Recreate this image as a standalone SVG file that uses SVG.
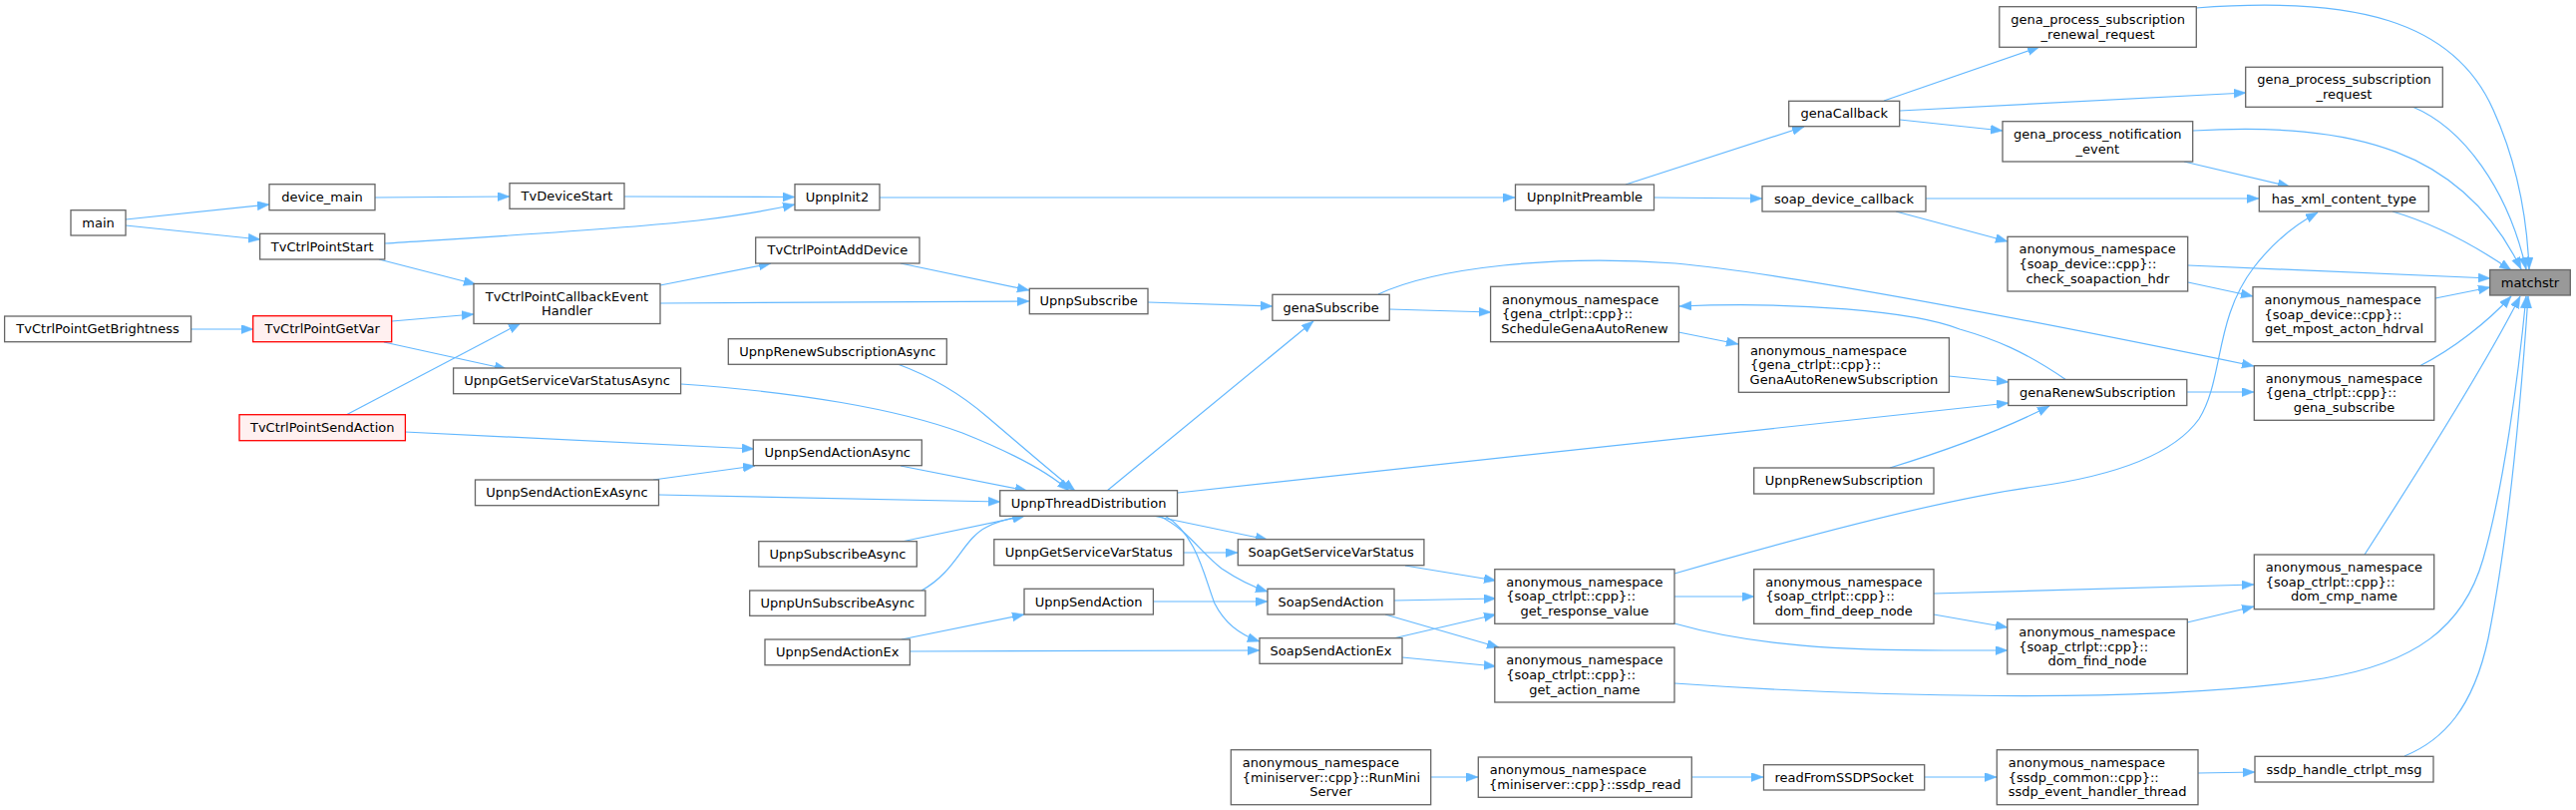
<svg xmlns="http://www.w3.org/2000/svg" width="2583" height="812" viewBox="0 0 2583 812">
<style>
.n rect{fill:#ffffff;stroke:#666666;stroke-width:1.3}
.n.r rect{fill:#fff0f0;stroke:#ff0000}
.n.g rect{fill:#999999}
text{font-family:"DejaVu Sans","Liberation Sans",sans-serif;font-size:13px;fill:#000000}
.m{text-anchor:middle}
#edges path{fill:none;stroke:#63b8ff;stroke-width:1.2;marker-end:url(#a)}
</style>
<defs>
<marker id="a" markerUnits="userSpaceOnUse" markerWidth="14" markerHeight="11" refX="12" refY="4.5" orient="auto">
<path d="M0,0 L12,4.5 L0,9 Z" fill="#63b8ff" stroke="#63b8ff" stroke-width="0.5"/>
</marker>
</defs>
<rect width="2583" height="812" fill="#ffffff"/>
<g id="edges">
<path d="M126,220 L270,205"/>
<path d="M126,226 L261,240"/>
<path d="M376,198 L511,197"/>
<path d="M626,197 L797,197.5"/>
<path d="M386,244 C480,238 620,230 700,221 C740,216 770,211 797,205"/>
<path d="M380,260 L477,285"/>
<path d="M192,330 L254,330"/>
<path d="M393,322 L475,315"/>
<path d="M385,343 L508,370"/>
<path d="M347,416 L522,324"/>
<path d="M406,433 L756,450"/>
<path d="M662,286 L773,264"/>
<path d="M662,304 L1032,302"/>
<path d="M903,264 L1032,291"/>
<path d="M882,198 L1519,198"/>
<path d="M1630,185 L1809,127"/>
<path d="M1659,198 L1767,199"/>
<path d="M1889,101 L2045,47"/>
<path d="M1905,111 L2252,93"/>
<path d="M1905,120 L2008,131"/>
<path d="M1931,199 L2265,199"/>
<path d="M1901,212 L2013,242"/>
<path d="M2190,162 L2296,187"/>
<path d="M2202,8 C2360,-4 2460,20 2500,110 C2525,165 2534,220 2536,270"/>
<path d="M2419,107 C2470,128 2515,190 2533,270"/>
<path d="M2199,131 C2360,122 2470,150 2528,270"/>
<path d="M2399,212 C2440,224 2480,245 2518,271"/>
<path d="M2194,266 L2497,279"/>
<path d="M2194,283 L2259,297"/>
<path d="M2442,299 L2497,288"/>
<path d="M2426,367 C2460,350 2495,322 2518,297"/>
<path d="M2371,556 C2420,480 2490,370 2527,297"/>
<path d="M1679,685 C1850,697 2150,708 2330,680 C2420,665 2470,630 2490,560 C2510,490 2525,380 2533,297"/>
<path d="M2411,758 C2450,742 2480,710 2495,640 C2515,540 2528,400 2535,297"/>
<path d="M1679,575 C1800,540 1950,500 2040,488 C2120,477 2180,455 2205,420 C2230,380 2220,320 2260,268 C2280,242 2300,226 2324,213"/>
<path d="M1382,295 C1440,268 1560,255 1680,264 C1800,275 2080,330 2260,367"/>
<path d="M2193,393 L2260,393"/>
<path d="M1393,310 L1495,313"/>
<path d="M1683,333 L1743,345"/>
<path d="M1954,377 L2014,383"/>
<path d="M2072,381 C2030,352 2000,340 1965,330 C1920,312 1800,302 1684,307"/>
<path d="M1895,469 C1950,452 2010,430 2055,407"/>
<path d="M1181,494 L2014,404"/>
<path d="M1151,303 L1276,307"/>
<path d="M1110,492 L1317,322"/>
<path d="M683,385 C800,393 900,410 965,434 C1010,452 1050,472 1072,492"/>
<path d="M900,365 C930,376 960,392 990,418 C1030,452 1060,478 1078,492"/>
<path d="M903,467 L1030,492"/>
<path d="M661,496 L1003,503"/>
<path d="M655,481 L757,467"/>
<path d="M904,543 L1028,517"/>
<path d="M924,592 C960,572 965,540 990,528 C1002,522 1015,519 1027,517"/>
<path d="M1156,517 L1271,541"/>
<path d="M1162,517 C1190,530 1205,555 1225,570 C1240,580 1255,588 1271,593"/>
<path d="M1168,517 C1200,535 1208,580 1218,605 C1228,625 1245,637 1263,643"/>
<path d="M1187,554 L1241,554"/>
<path d="M1156,603 L1271,603"/>
<path d="M904,641 L1027,616"/>
<path d="M912,653 L1263,652"/>
<path d="M1409,567 L1500,582"/>
<path d="M1398,602 L1500,600"/>
<path d="M1389,616 L1503,649"/>
<path d="M1397,640 L1500,616"/>
<path d="M1406,659 L1500,668"/>
<path d="M1679,598 L1759,598"/>
<path d="M1679,625 C1760,648 1850,652 1950,652 L2013,652"/>
<path d="M1939,595 L2260,586"/>
<path d="M1939,616 L2013,629"/>
<path d="M2193,624 L2260,608"/>
<path d="M1435,779 L1482,779"/>
<path d="M1696,779 L1768,779"/>
<path d="M1930,779 L2002,779"/>
<path d="M2204,775 L2261,774"/>
</g>
<g id="main" class="n"><rect x="71" y="210.7" width="55" height="25.3"/><text class="m" x="98.5" y="227.6">main</text></g>
<g id="device_main" class="n"><rect x="270" y="184.7" width="106" height="26"/><text class="m" x="323" y="202">device_main</text></g>
<g id="TvDeviceStart" class="n"><rect x="511" y="183.7" width="115" height="25.6"/><text class="m" x="568.5" y="200.8">TvDeviceStart</text></g>
<g id="UpnpInit2" class="n"><rect x="797" y="184.7" width="85" height="26"/><text class="m" x="839.5" y="202">UpnpInit2</text></g>
<g id="TvCtrlPointStart" class="n"><rect x="260.6" y="234.3" width="125.2" height="25.7"/><text class="m" x="323.2" y="251.5">TvCtrlPointStart</text></g>
<g id="TvCtrlPointAddDevice" class="n"><rect x="757.7" y="238" width="164.3" height="26"/><text class="m" x="839.85" y="255.3">TvCtrlPointAddDevice</text></g>
<g id="TvCtrlPointCallbackEventHandler" class="n"><rect x="475" y="284.5" width="187" height="40"/><text class="m" x="568.5" y="301.5">TvCtrlPointCallbackEvent</text><text class="m" x="568.5" y="316.1">Handler</text></g>
<g id="TvCtrlPointGetBrightness" class="n"><rect x="4.6" y="317" width="187" height="25.7"/><text class="m" x="98.1" y="334.2">TvCtrlPointGetBrightness</text></g>
<g id="TvCtrlPointGetVar" class="n r"><rect x="253.7" y="316.7" width="139" height="26"/><text class="m" x="323.2" y="334">TvCtrlPointGetVar</text></g>
<g id="UpnpRenewSubscriptionAsync" class="n"><rect x="730.3" y="339.7" width="219" height="25.6"/><text class="m" x="839.8" y="356.8">UpnpRenewSubscriptionAsync</text></g>
<g id="UpnpGetServiceVarStatusAsync" class="n"><rect x="454.6" y="369" width="228" height="25.7"/><text class="m" x="568.6" y="386.2">UpnpGetServiceVarStatusAsync</text></g>
<g id="TvCtrlPointSendAction" class="n r"><rect x="240" y="415.7" width="166.4" height="26"/><text class="m" x="323.2" y="433">TvCtrlPointSendAction</text></g>
<g id="UpnpSendActionAsync" class="n"><rect x="755.3" y="441" width="169" height="25.7"/><text class="m" x="839.8" y="458.2">UpnpSendActionAsync</text></g>
<g id="UpnpSendActionExAsync" class="n"><rect x="476.5" y="481" width="184" height="25.7"/><text class="m" x="568.5" y="498.2">UpnpSendActionExAsync</text></g>
<g id="UpnpSubscribe" class="n"><rect x="1032.3" y="289.3" width="118.7" height="25.4"/><text class="m" x="1091.65" y="306.3">UpnpSubscribe</text></g>
<g id="UpnpThreadDistribution" class="n"><rect x="1002.7" y="491.7" width="177.8" height="25.6"/><text class="m" x="1091.6" y="508.8">UpnpThreadDistribution</text></g>
<g id="UpnpSubscribeAsync" class="n"><rect x="760.8" y="542.7" width="158.5" height="25.3"/><text class="m" x="840" y="559.7">UpnpSubscribeAsync</text></g>
<g id="UpnpUnSubscribeAsync" class="n"><rect x="751.7" y="592" width="176.2" height="25.3"/><text class="m" x="839.8" y="609">UpnpUnSubscribeAsync</text></g>
<g id="UpnpSendActionEx" class="n"><rect x="767" y="641" width="145.4" height="25.7"/><text class="m" x="839.7" y="658.2">UpnpSendActionEx</text></g>
<g id="UpnpGetServiceVarStatus" class="n"><rect x="996.8" y="540.7" width="190" height="26"/><text class="m" x="1091.8" y="558">UpnpGetServiceVarStatus</text></g>
<g id="UpnpSendAction" class="n"><rect x="1027" y="590.3" width="129.4" height="25.7"/><text class="m" x="1091.7" y="607.5">UpnpSendAction</text></g>
<g id="genaSubscribe" class="n"><rect x="1275.9" y="295.3" width="117.3" height="26"/><text class="m" x="1334.55" y="312.6">genaSubscribe</text></g>
<g id="SoapGetServiceVarStatus" class="n"><rect x="1241.3" y="540.7" width="186.6" height="26"/><text class="m" x="1334.6" y="558">SoapGetServiceVarStatus</text></g>
<g id="SoapSendAction" class="n"><rect x="1271" y="590.3" width="127" height="25.7"/><text class="m" x="1334.5" y="607.5">SoapSendAction</text></g>
<g id="SoapSendActionEx" class="n"><rect x="1263" y="639.7" width="143" height="25.6"/><text class="m" x="1334.5" y="656.8">SoapSendActionEx</text></g>
<g id="RunMiniServer" class="n"><rect x="1234.3" y="751.7" width="200.4" height="55"/><text x="1245.8" y="768.8">anonymous_namespace</text><text x="1245.8" y="783.5">{miniserver::cpp}::RunMini</text><text class="m" x="1334.5" y="798.2">Server</text></g>
<g id="UpnpInitPreamble" class="n"><rect x="1519.5" y="185" width="139" height="25.7"/><text class="m" x="1589" y="202.2">UpnpInitPreamble</text></g>
<g id="ScheduleGenaAutoRenew" class="n"><rect x="1494.6" y="287.3" width="188.8" height="55.4"/><text x="1506" y="304.6">anonymous_namespace</text><text x="1506" y="319.3">{gena_ctrlpt::cpp}::</text><text class="m" x="1589" y="334">ScheduleGenaAutoRenew</text></g>
<g id="get_response_value" class="n"><rect x="1498.8" y="570.7" width="180.2" height="54.6"/><text x="1510.3" y="587.6">anonymous_namespace</text><text x="1510.3" y="602.3">{soap_ctrlpt::cpp}::</text><text class="m" x="1588.9" y="617">get_response_value</text></g>
<g id="get_action_name" class="n"><rect x="1498.8" y="649" width="180.2" height="55"/><text x="1510.3" y="666.1">anonymous_namespace</text><text x="1510.3" y="680.8">{soap_ctrlpt::cpp}::</text><text class="m" x="1588.9" y="695.5">get_action_name</text></g>
<g id="ssdp_read" class="n"><rect x="1482.3" y="759" width="214" height="40.3"/><text x="1493.8" y="776.1">anonymous_namespace</text><text class="m" x="1589.3" y="790.8">{miniserver::cpp}::ssdp_read</text></g>
<g id="genaCallback" class="n"><rect x="1793.7" y="101.3" width="111" height="25.4"/><text class="m" x="1849.2" y="118.3">genaCallback</text></g>
<g id="soap_device_callback" class="n"><rect x="1767" y="186.7" width="164" height="25.3"/><text class="m" x="1849" y="203.7">soap_device_callback</text></g>
<g id="GenaAutoRenewSubscription" class="n"><rect x="1743.4" y="338.7" width="211" height="54.6"/><text x="1754.9" y="355.6">anonymous_namespace</text><text x="1754.9" y="370.3">{gena_ctrlpt::cpp}::</text><text class="m" x="1848.9" y="385">GenaAutoRenewSubscription</text></g>
<g id="UpnpRenewSubscription" class="n"><rect x="1758.7" y="469" width="180.3" height="26"/><text class="m" x="1848.85" y="486.3">UpnpRenewSubscription</text></g>
<g id="dom_find_deep_node" class="n"><rect x="1758.7" y="570.7" width="180.3" height="54.6"/><text x="1770.2" y="587.6">anonymous_namespace</text><text x="1770.2" y="602.3">{soap_ctrlpt::cpp}::</text><text class="m" x="1848.85" y="617">dom_find_deep_node</text></g>
<g id="readFromSSDPSocket" class="n"><rect x="1768.5" y="766.7" width="161.2" height="25.3"/><text class="m" x="1849.1" y="783.7">readFromSSDPSocket</text></g>
<g id="gena_process_subscription_renewal_request" class="n"><rect x="2004.8" y="6.7" width="197.5" height="40.6"/><text class="m" x="2103.55" y="24">gena_process_subscription</text><text class="m" x="2103.55" y="38.6">_renewal_request</text></g>
<g id="gena_process_notification_event" class="n"><rect x="2008" y="121.7" width="190.7" height="40.3"/><text class="m" x="2103.35" y="138.8">gena_process_notification</text><text class="m" x="2103.35" y="153.5">_event</text></g>
<g id="check_soapaction_hdr" class="n"><rect x="2013" y="237.3" width="180.7" height="54.7"/><text x="2024.5" y="254.3">anonymous_namespace</text><text x="2024.5" y="268.95">{soap_device::cpp}::</text><text class="m" x="2103.35" y="283.6">check_soapaction_hdr</text></g>
<g id="genaRenewSubscription" class="n"><rect x="2013.8" y="380.5" width="179" height="26"/><text class="m" x="2103.3" y="397.8">genaRenewSubscription</text></g>
<g id="dom_find_node" class="n"><rect x="2012.8" y="620.7" width="180.5" height="55"/><text x="2024.3" y="637.8">anonymous_namespace</text><text x="2024.3" y="652.5">{soap_ctrlpt::cpp}::</text><text class="m" x="2103.05" y="667.2">dom_find_node</text></g>
<g id="ssdp_event_handler_thread" class="n"><rect x="2002.3" y="751.7" width="201.7" height="55"/><text x="2013.8" y="768.8">anonymous_namespace</text><text x="2013.8" y="783.5">{ssdp_common::cpp}::</text><text class="m" x="2103.15" y="798.2">ssdp_event_handler_thread</text></g>
<g id="gena_process_subscription_request" class="n"><rect x="2251.7" y="67.3" width="197.6" height="40"/><text class="m" x="2350.5" y="84.3">gena_process_subscription</text><text class="m" x="2350.5" y="98.9">_request</text></g>
<g id="has_xml_content_type" class="n"><rect x="2265.3" y="186.7" width="170" height="25.3"/><text class="m" x="2350.3" y="203.7">has_xml_content_type</text></g>
<g id="get_mpost_acton_hdrval" class="n"><rect x="2259" y="287.7" width="183" height="55"/><text x="2270.5" y="304.8">anonymous_namespace</text><text x="2270.5" y="319.5">{soap_device::cpp}::</text><text class="m" x="2350.5" y="334.2">get_mpost_acton_hdrval</text></g>
<g id="gena_subscribe" class="n"><rect x="2260.3" y="366.7" width="180.4" height="54.6"/><text x="2271.8" y="383.6">anonymous_namespace</text><text x="2271.8" y="398.3">{gena_ctrlpt::cpp}::</text><text class="m" x="2350.5" y="413">gena_subscribe</text></g>
<g id="dom_cmp_name" class="n"><rect x="2260.3" y="556" width="180.4" height="54.7"/><text x="2271.8" y="573">anonymous_namespace</text><text x="2271.8" y="587.7">{soap_ctrlpt::cpp}::</text><text class="m" x="2350.5" y="602.4">dom_cmp_name</text></g>
<g id="ssdp_handle_ctrlpt_msg" class="n"><rect x="2261" y="758.3" width="179" height="25.7"/><text class="m" x="2350.5" y="775.5">ssdp_handle_ctrlpt_msg</text></g>
<g id="matchstr" class="n g"><rect x="2496.7" y="270.5" width="80.6" height="25.5"/><text class="m" x="2537" y="287.6">matchstr</text></g>
</svg>
